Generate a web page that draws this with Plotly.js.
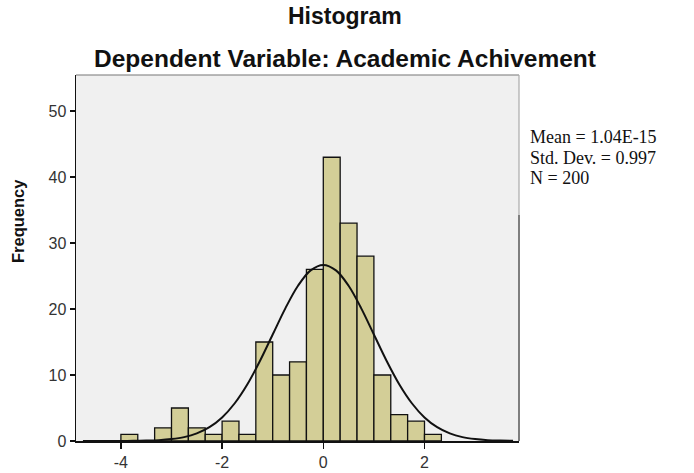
<!DOCTYPE html>
<html>
<head>
<meta charset="utf-8">
<script src="https://cdn.plot.ly/plotly-3.0.1.min.js"></script>
<style>html,body{margin:0;padding:0;background:#fff;}#chart{width:694px;height:473px;}</style>
</head>
<body>
<div id="chart"></div>
<script>
// Histogram bins (bin width 1/3, first bin starts at -4)
const binStart = -4;
const binWidth = 1 / 3;
const counts = [1, 0, 2, 5, 2, 1, 3, 1, 15, 10, 12, 26, 43, 33, 28, 10, 4, 3, 1];

// Normal curve
const curveX = [-4.75, -4.5, -4.25, -4, -3.75, -3.5, -3.25, -3, -2.75, -2.5, -2.25, -2, -1.75, -1.5, -1.25, -1, -0.75, -0.5, -0.25, 0,
                0.25, 0.5, 0.75, 1, 1.25, 1.5, 1.75, 2, 2.25, 2.5, 2.75, 3, 3.25, 3.5, 3.75];
const curveY = [0, 0, 0, 0.01, 0.02, 0.06, 0.13, 0.29, 0.59, 1.15, 2.09, 3.57, 5.72, 8.6, 12.16, 16.13, 20.1, 23.53, 25.86, 26.68,
                25.86, 23.53, 20.1, 16.13, 12.16, 8.6, 5.72, 3.57, 2.09, 1.15, 0.59, 0.29, 0.13, 0.06, 0.02];

const xTicks = [-4, -2, 0, 2];
const yTicks = [0, 10, 20, 30, 40, 50];

const titleText = "Histogram";
const subtitleText = "Dependent Variable: Academic Achivement";
const yTitleText = "Frequency";
const statLines = ["Mean = 1.04E-15", "Std. Dev. = 0.997", "N = 200"];

const centers = counts.map((c, i) => binStart + binWidth * (i + 0.5));

const traces = [
  {
    type: 'bar',
    x: centers,
    y: counts,
    width: binWidth,
    marker: { color: 'rgb(211,206,151)', line: { color: '#111', width: 1.3 } },
    hoverinfo: 'x+y'
  },
  {
    type: 'scatter',
    mode: 'lines',
    x: curveX,
    y: curveY,
    line: { color: '#111', width: 2, shape: 'spline', smoothing: 1 },
    hoverinfo: 'skip'
  }
];

const L = 76, R = 519, T = 75, B = 441, W = 694, H = 473;
const px2x = p => (p - L) / (R - L);
const px2y = p => (B - p) / (B - T);

const tickFont = { family: 'Liberation Sans, Arial, sans-serif', size: 16, color: '#333' };

const annotations = [
  { text: titleText, xref: 'paper', yref: 'paper', x: px2x(345), y: px2y(16), xanchor: 'center', yanchor: 'middle',
    showarrow: false, font: { family: 'Liberation Sans, Arial, sans-serif', size: 23, color: '#111', weight: 'bold' } },
  { text: subtitleText, xref: 'paper', yref: 'paper', x: px2x(345), y: px2y(58), xanchor: 'center', yanchor: 'middle',
    showarrow: false, font: { family: 'Liberation Sans, Arial, sans-serif', size: 24.5, color: '#111', weight: 'bold' } },
  { text: yTitleText, xref: 'paper', yref: 'paper', x: px2x(18), y: px2y(221), xanchor: 'center', yanchor: 'middle',
    textangle: -90, showarrow: false, font: { family: 'Liberation Sans, Arial, sans-serif', size: 16.5, color: '#111', weight: 'bold' } }
];
statLines.forEach((s, i) => {
  annotations.push({ text: s, xref: 'paper', yref: 'paper', x: px2x(528), y: px2y(137 + 20.5 * i), xanchor: 'left', yanchor: 'middle',
    showarrow: false, font: { family: 'Liberation Serif, Times New Roman, serif', size: 18, color: '#111' } });
});

const layout = {
  width: W, height: H,
  margin: { l: L, r: W - R, t: T, b: H - B, pad: 0 },
  paper_bgcolor: '#ffffff',
  plot_bgcolor: 'rgb(240,240,240)',
  showlegend: false,
  bargap: 0,
  xaxis: {
    range: [(L - 323.3) / 50.6, (R - 323.3) / 50.6],
    tickvals: xTicks, ticktext: xTicks.map(String),
    ticks: 'outside', ticklen: 6, tickwidth: 1.5, tickcolor: '#111',
    showline: true, linecolor: '#111', linewidth: 1.5,
    showgrid: false, zeroline: false, tickfont: tickFont, fixedrange: true
  },
  yaxis: {
    range: [0, 55.46],
    tickvals: yTicks, ticktext: yTicks.map(String),
    ticks: 'outside', ticklen: 5, tickwidth: 1.5, tickcolor: '#111',
    showline: true, linecolor: '#111', linewidth: 1.5,
    showgrid: false, zeroline: false, tickfont: tickFont, fixedrange: true
  },
  shapes: [
    { type: 'line', xref: 'paper', yref: 'paper', x0: 0, x1: 1, y0: 1, y1: 1, line: { color: '#777', width: 1.2 } },
    { type: 'line', xref: 'paper', yref: 'paper', x0: 1, x1: 1, y0: 0, y1: 1, line: { color: '#aaa', width: 1.2 } },
    { type: 'line', xref: 'paper', yref: 'paper', x0: 1, x1: 1, y0: 0, y1: px2y(215), line: { color: '#666', width: 1.5 } }
  ],
  annotations: annotations
};

Plotly.newPlot('chart', traces, layout, { displayModeBar: false, staticPlot: true });
</script>
</body>
</html>
